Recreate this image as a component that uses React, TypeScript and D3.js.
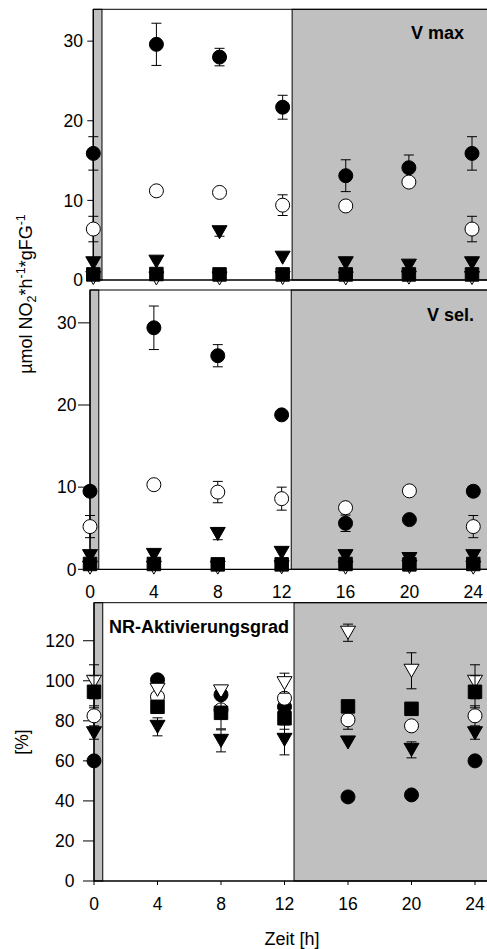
import React from 'react'
import * as d3 from 'd3'

const width = 487
const height = 949
const font = 'Liberation Sans, Arial, sans-serif'
const shade = '#c0c0c0'

const hours = [0, 4, 8, 12, 16, 20, 24]
const dawnEnd = 0.55
const nightStart = 12.6

const vTicks = [0, 10, 20, 30]
const pctTicks = [0, 20, 40, 60, 80, 100, 120]

// V max
const vmaxFilledCircle = [15.9, 29.6, 28.0, 21.7, 13.1, 14.1, 15.9]
const vmaxFilledCircleErr = [2.1, 2.65, 1.1, 1.5, 2.0, 1.6, 2.1]
const vmaxOpenCircle = [6.4, 11.2, 11.0, 9.4, 9.3, 12.3, 6.4]
const vmaxOpenCircleErr = [1.6, 0, 0, 1.3, 0, 0, 1.6]
const vmaxOpenTri = [0.25, 0.2, 0.2, 0.25, 0.2, 0.3, 0.25]
const vmaxFilledTri = [2.1, 2.3, 6.0, 2.8, 2.1, 1.8, 2.1]
const vmaxFilledTriErr = [0, 0, 0.5, 0, 0, 0, 0]
const vmaxSquare = [0.7, 0.75, 0.7, 0.7, 0.7, 0.7, 0.7]

// V sel.
const vselFilledCircle = [9.5, 29.4, 26.0, 18.8, 5.6, 6.05, 9.5]
const vselFilledCircleErr = [0.6, 2.65, 1.35, 0, 1.0, 0, 0.6]
const vselOpenCircle = [5.2, 10.3, 9.4, 8.6, 7.5, 9.55, 5.2]
const vselOpenCircleErr = [1.35, 0, 1.3, 1.4, 0, 0, 1.35]
const vselOpenTri = [0.2, 0.2, 0.2, 0.25, 0.2, 0.3, 0.2]
const vselFilledTri = [1.6, 1.75, 4.3, 2.0, 1.6, 1.25, 1.6]
const vselFilledTriErr = [0, 0, 0.7, 0, 0, 0, 0]
const vselSquare = [0.65, 0.65, 0.6, 0.6, 0.65, 0.6, 0.65]

// NR-Aktivierungsgrad [%]
const pctFilledCircle = [60, 100.5, 93, 87, 42, 43, 60]
const pctFilledCircleErr = [0, 2, 0, 0, 0, 0, 0]
const pctOpenCircle = [82.5, 92, 85.5, 91.3, 80.5, 77.5, 82.5]
const pctOpenCircleErr = [5, 0, 0, 0, 4.7, 0, 5]
const pctOpenTri = [99.5, 95.5, 94.7, 98.8, 124, 105, 99.5]
const pctOpenTriErr = [8.5, 0, 0, 5, 4.3, 9, 8.5]
const pctFilledTri = [73.8, 77, 70, 70.5, 69.2, 65.5, 73.8]
const pctFilledTriErr = [3, 4.5, 5.5, 7.5, 0, 4, 3]
const pctSquare = [94.5, 87, 84, 81.3, 87.2, 86, 94.5]
const pctSquareErr = [8, 0, 8, 5.5, 0, 0, 8]

const triangleDown = {
  draw(ctx: any, size: number) {
    const w = Math.sqrt(size)
    const h = w * 0.87
    ctx.moveTo(-w / 2, -h / 2)
    ctx.lineTo(w / 2, -h / 2)
    ctx.lineTo(0, h / 2)
    ctx.closePath()
  }
}

const shapes: any = {
  circle: d3.symbol().type(d3.symbolCircle).size(Math.PI * 49)(),
  square: d3.symbol().type(d3.symbolSquare).size(182)(),
  tri: d3.symbol().type(triangleDown as any).size(225)()
}

const mk = (shape: string, fill: string, values: number[], err?: number[]) => ({ shape, fill, values, err })

const panels = [
  {
    x0: 93.3, x24: 472, top: 9.3, bottom: 280, yMax: 34, ticks: vTicks,
    tickLen: 6, labelRight: 83, xLabels: null as number | null,
    series: [
      mk('circle', '#000', vmaxFilledCircle, vmaxFilledCircleErr),
      mk('circle', '#fff', vmaxOpenCircle, vmaxOpenCircleErr),
      mk('tri', '#fff', vmaxOpenTri),
      mk('tri', '#000', vmaxFilledTri, vmaxFilledTriErr),
      mk('square', '#000', vmaxSquare)
    ]
  },
  {
    x0: 90, x24: 473.3, top: 290, bottom: 569.3, yMax: 34, ticks: vTicks,
    tickLen: 12, labelRight: 76.5, xLabels: 598 as number | null,
    series: [
      mk('circle', '#000', vselFilledCircle, vselFilledCircleErr),
      mk('circle', '#fff', vselOpenCircle, vselOpenCircleErr),
      mk('tri', '#fff', vselOpenTri),
      mk('tri', '#000', vselFilledTri, vselFilledTriErr),
      mk('square', '#000', vselSquare)
    ]
  },
  {
    x0: 94, x24: 475, top: 602.7, bottom: 881, yMax: 139, ticks: pctTicks,
    tickLen: 11, labelRight: 74.5, xLabels: 910 as number | null,
    series: [
      mk('circle', '#000', pctFilledCircle, pctFilledCircleErr),
      mk('circle', '#fff', pctOpenCircle, pctOpenCircleErr),
      mk('tri', '#fff', pctOpenTri, pctOpenTriErr),
      mk('tri', '#000', pctFilledTri, pctFilledTriErr),
      mk('square', '#000', pctSquare, pctSquareErr)
    ]
  }
]

const Panel = ({ p }: { p: any }) => {
  const x = d3.scaleLinear().domain([0, 24]).range([p.x0, p.x24])
  const y = d3.scaleLinear().domain([0, p.yMax]).range([p.bottom, p.top])
  const right = width + 5
  return (
    <g>
      <rect x={x(0)} y={p.top} width={x(dawnEnd) - x(0)} height={p.bottom - p.top} fill={shade} stroke="#000" strokeWidth={1} />
      <rect x={x(nightStart)} y={p.top} width={right - x(nightStart)} height={p.bottom - p.top} fill={shade} stroke="#000" strokeWidth={1} />
      <line x1={x(0)} x2={right} y1={p.top} y2={p.top} stroke="#000" />
      <line x1={x(0)} x2={right} y1={p.bottom} y2={p.bottom} stroke="#000" strokeWidth={1.3} />
      <line x1={x(0)} x2={x(0)} y1={p.top} y2={p.bottom} stroke="#000" strokeWidth={1.3} />
      {p.ticks.map((t: number) => (
        <g key={t}>
          <line x1={x(0) - p.tickLen} x2={x(0)} y1={y(t)} y2={y(t)} stroke="#000" />
          <text x={p.labelRight} y={y(t)} dy="0.36em" textAnchor="end" fontSize={17.5} fontFamily={font}>{t}</text>
        </g>
      ))}
      {hours.map((h) => (
        <g key={h}>
          <line x1={x(h)} x2={x(h)} y1={p.bottom} y2={p.bottom + 4} stroke="#000" />
          {p.xLabels != null && (
            <text x={x(h)} y={p.xLabels} textAnchor="middle" fontSize={17.5} fontFamily={font}>{h}</text>
          )}
        </g>
      ))}
      {p.series.map((s: any, si: number) => (
        <g key={si}>
          {s.err && s.values.map((v: number, i: number) => s.err[i] > 0 && (
            <g key={'e' + i} stroke="#000" strokeWidth={1}>
              <line x1={x(hours[i])} x2={x(hours[i])} y1={y(v - s.err[i])} y2={y(v + s.err[i])} />
              <line x1={x(hours[i]) - 5} x2={x(hours[i]) + 5} y1={y(v + s.err[i])} y2={y(v + s.err[i])} />
              <line x1={x(hours[i]) - 5} x2={x(hours[i]) + 5} y1={y(v - s.err[i])} y2={y(v - s.err[i])} />
            </g>
          ))}
          {s.values.map((v: number, i: number) => (
            <path key={i} d={shapes[s.shape]} transform={`translate(${x(hours[i])},${y(v)})`} fill={s.fill} stroke="#000" strokeWidth={1} />
          ))}
        </g>
      ))}
    </g>
  )
}

const App = () => {
  return (
    <svg width={width} height={height} style={{ position: 'absolute', left: 0, top: 0, background: '#fff' }}>
      {panels.map((p, i) => <Panel key={i} p={p} />)}
      <text x={464} y={39.3} textAnchor="end" fontSize={18} fontWeight="bold" fontFamily={font}>V max</text>
      <text x={474} y={320.7} textAnchor="end" fontSize={18} fontWeight="bold" fontFamily={font}>V sel.</text>
      <text x={109} y={633.3} fontSize={18} fontWeight="bold" fontFamily={font}>NR-Aktivierungsgrad</text>
      <text transform="translate(31.5,294) rotate(-90)" textAnchor="middle" fontSize={18} fontFamily={font}>
        {'\u00b5mol NO'}
        <tspan fontSize={12.5} dy={4}>2</tspan>
        <tspan dy={-4}>*h</tspan>
        <tspan fontSize={12.5} dy={-7}>-1</tspan>
        <tspan dy={7}>*gFG</tspan>
        <tspan fontSize={12.5} dy={-7}>-1</tspan>
      </text>
      <text transform="translate(28,742) rotate(-90)" textAnchor="middle" fontSize={17.5} fontFamily={font}>[%]</text>
      <text x={292} y={945} textAnchor="middle" fontSize={18} fontFamily={font}>Zeit [h]</text>
    </svg>
  )
}

export default App
